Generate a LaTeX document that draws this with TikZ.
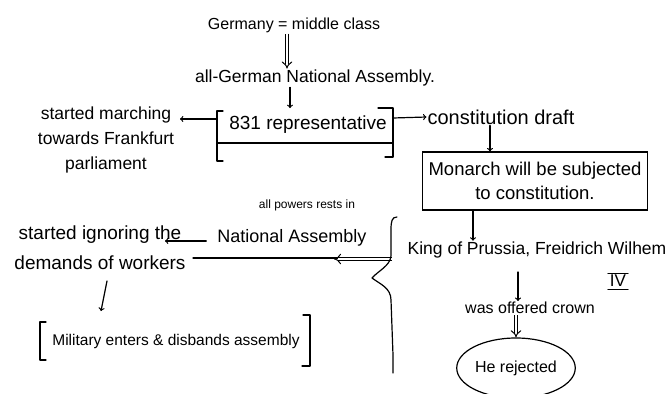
\documentclass[tikz,border=0pt]{standalone}
\usepackage{fontspec}
\setmainfont{Liberation Sans}
\usetikzlibrary{arrows.meta,shapes.geometric}
\tikzset{
  note/.style={inner sep=1pt, font=\fontsize{#1}{25}\selectfont, align=center},
  note/.default=17,
  framed/.style={note=18.5, draw, line width=1.4pt, minimum width=225pt, minimum height=58pt},
  ring/.style={note=16, draw, ellipse, line width=1.2pt, minimum width=108pt, minimum height=60pt},
  pen/.style={line width=1.2pt, line cap=round, line join=round},
  twin/.style={double, double distance=2.6pt, line width=1pt, -{Implies}},
}
\begin{document}
\begin{tikzpicture}[x=1pt, y=-1pt, >=to]
  \useasboundingbox (0,0) rectangle (665,394);
  % top chain
  \node[note=16] (germany) at (294,25) {Germany = middle class};
  \node[note=17.5] (assembly) at (315,78) {all-German National Assembly.};
  \draw[twin] (germany.south -| 287,0) -- (assembly.north -| 287,0);
  % representatives in brackets
  \node[note=19] (rep) at (308,125) {831 representative};
  \coordinate (reptop) at (290,108);
  \coordinate (lbr) at (217,119);
  \coordinate (rbr) at (393,118);
  \draw[pen] (223,111) -- (217,111) -- (217,161) -- (223,161);
  \draw[pen] (378,108) -- (393,108) -- (393,157) -- (385,157);
  \draw[pen] (218,143) -- (393,143);
  \draw[pen,->] (assembly.south -| reptop) -- (reptop);
  \node[note=17.5] (march) at (106,140) {started marching\\towards Frankfurt\\parliament};
  \coordinate (marchend) at (180,119);
  \draw[pen,->] (lbr) -- (marchend);
  \node[note=20] (draft) at (501,117) {constitution draft};
  \draw[pen,->] (rbr) -- (draft.west);
  \node[framed] (monarch) at (535,181) {Monarch will be subjected\\[-1pt]to constitution.};
  \draw[pen,->] ([xshift=-11pt]draft.south) -- ([xshift=-11pt]draft.south |- monarch.north);
  % king
  \node[note=17.5] (king) at (537,250) {King of Prussia, Freidrich Wilhem};
  \node[note, inner sep=2pt] (iv) at (618,281) {IV};
  \draw[pen, line width=0.9pt] (iv.north west) -- (iv.north east);
  \draw[pen, line width=0.9pt] (iv.south west) -- (iv.south east);
  \draw[pen,->] ([xshift=-62pt]monarch.south) -- ([xshift=-62pt]monarch.south |- king.north);
  \node[note=16] (offered) at (530,308) {was offered crown};
  \coordinate (offtop) at (518,272);
  \draw[pen,->] (offtop) -- (offered.north -| offtop);
  \node[ring] (rejected) at (516,368) {He rejected};
  \draw[twin] (offered.south -| rejected.north) -- (rejected.north);
  % national assembly
  \node[note=12] (powers) at (307,205) {all powers rests in};
  \node[note=18] (natasm) at (292,238) {National Assembly};
  \draw[pen] (193,258) -- (340,258);
  \coordinate (bracetip) at (392,259);
  \draw[twin] (bracetip) -- (334,259);
  \draw[pen] (397,217) .. controls (392,217) and (391,221) .. (391,230)
    -- (391,256) .. controls (390,266) and (378,271) .. (372,278)
    .. controls (380,284) and (391,288) .. (391,300)
    -- (393,355) .. controls (393,364) and (393,368) .. (393,373);
  \node[note=19, font=\fontsize{19}{30}\selectfont] (ignore) at (100,248) {started ignoring the\\demands of workers};
  \coordinate (ignoreend) at (165,241);
  \draw[pen,->] (natasm.west) ++(-10,3) -- (ignoreend);
  \node[note=15.5] (military) at (176,341) {Military enters \& disbands assembly};
  \draw[pen] (46,322) -- (40,322) -- (40,360) -- (46,360);
  \draw[pen] (303,315) -- (310,315) -- (310,366) -- (302,366);
  \coordinate (ignorebot) at (107,281);
  \coordinate (miltop) at (101,311);
  \draw[pen,->] (ignorebot) -- (miltop);
\end{tikzpicture}
\end{document}
